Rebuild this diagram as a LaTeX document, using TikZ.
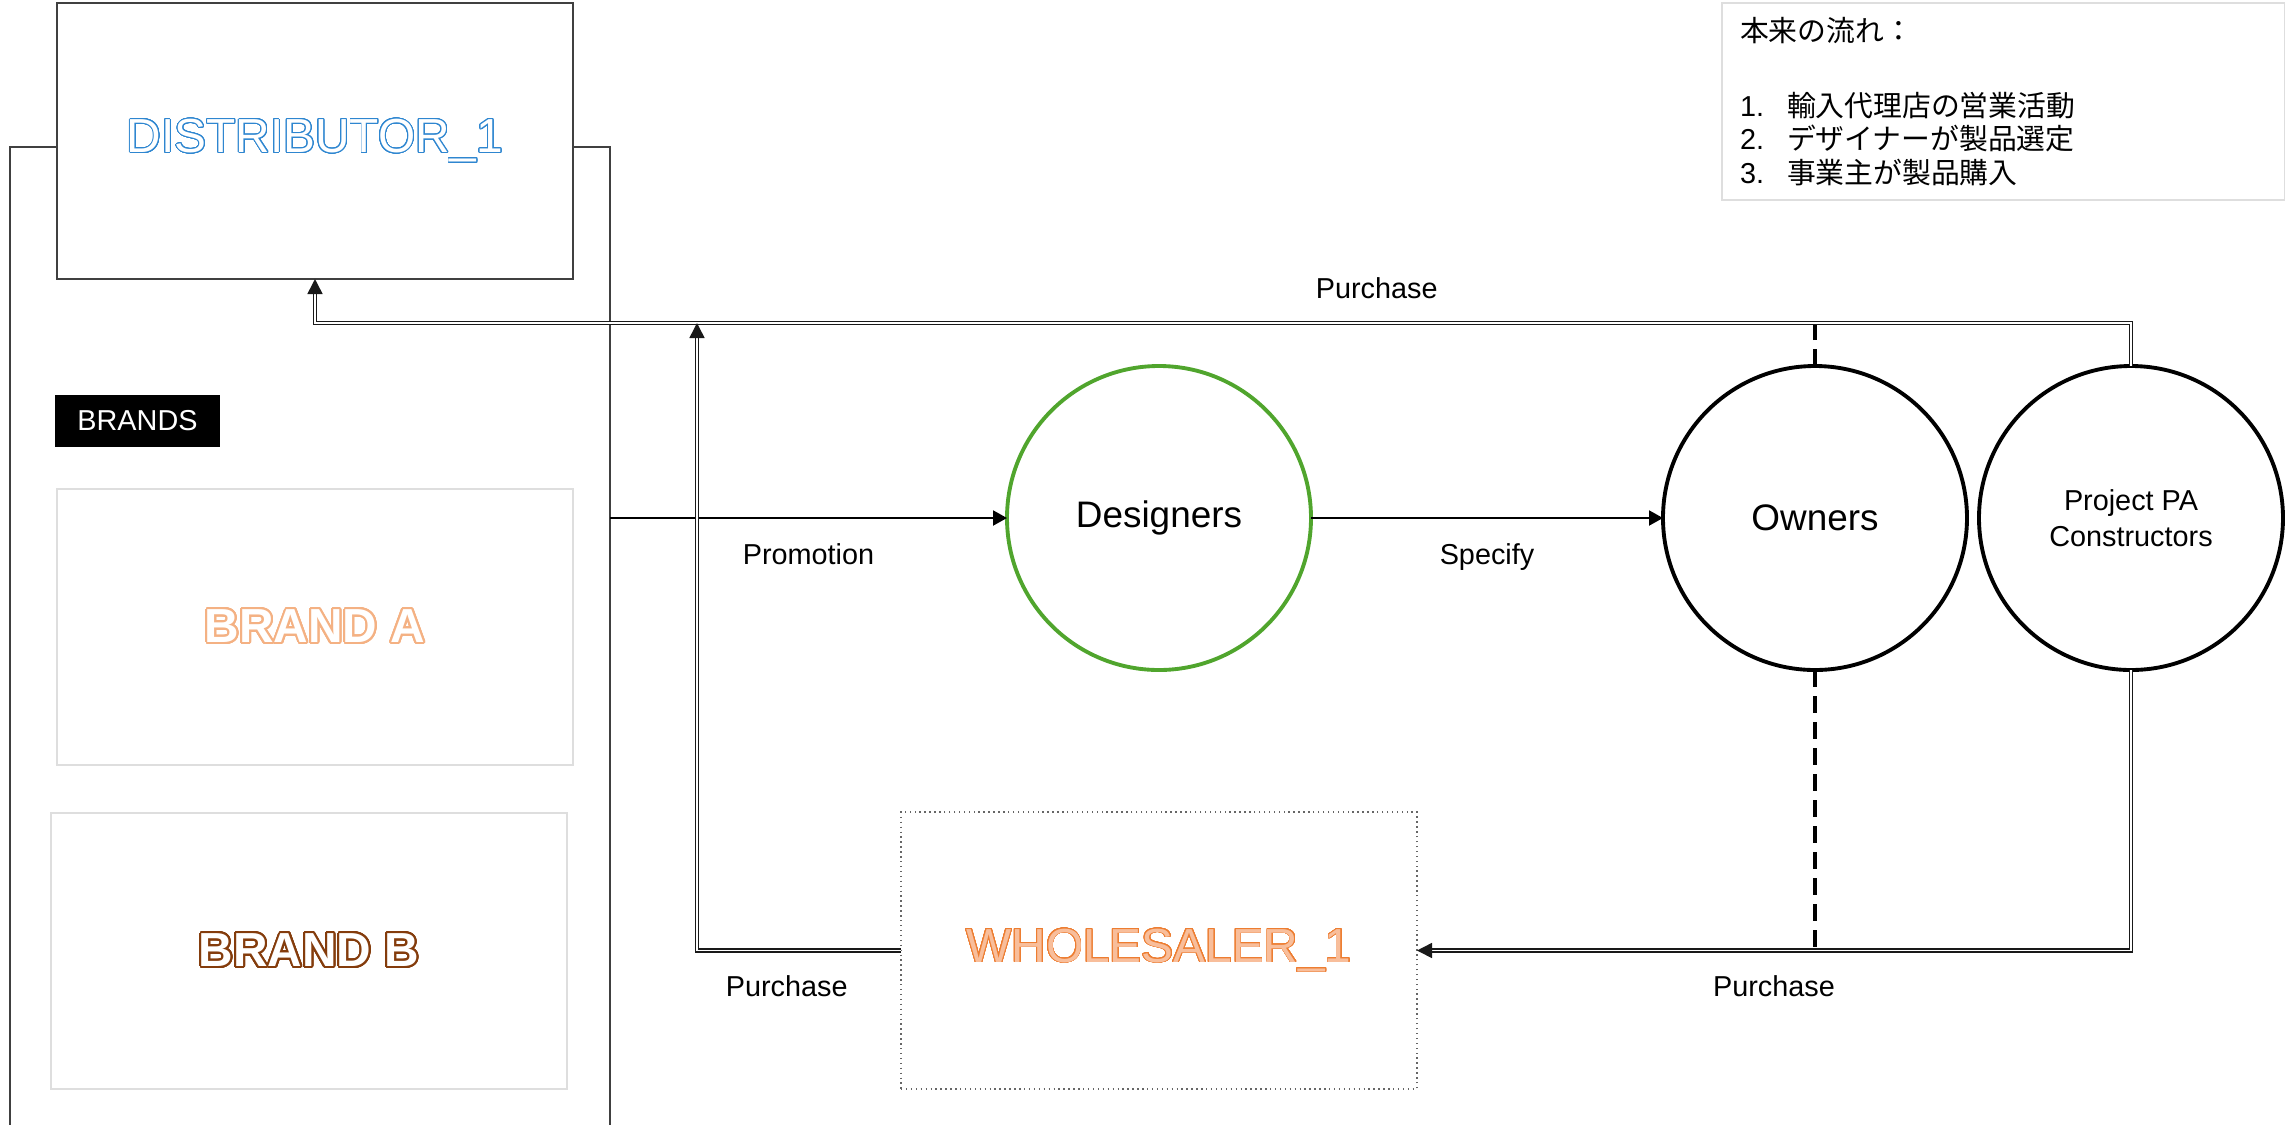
\documentclass[tikz,border=0pt]{standalone}
\usepackage{fontspec}
\setmainfont{Liberation Sans}
\newfontfamily\jpfont{Noto Sans CJK JP}
\usepackage{contour}
\contournumber{32}
\usetikzlibrary{positioning,arrows.meta}

\definecolor{distblue}{RGB}{46,134,208}
\definecolor{saleorange}{RGB}{237,125,49}
\definecolor{salefill}{RGB}{248,190,155}
\definecolor{brandpeach}{RGB}{244,177,131}
\definecolor{brandbrown}{RGB}{132,60,12}
\definecolor{designgreen}{RGB}{80,165,45}
\definecolor{framegray}{RGB}{64,64,64}
\definecolor{palegray}{RGB}{222,222,222}

\begin{document}
\begin{tikzpicture}[nodes = {align = center, outer sep = 0pt},
    company/.style = {draw=framegray, line width=0.4pt, minimum width=5.16cm,
      minimum height=2.76cm, font=\fontsize{13.6}{16}\selectfont},
    brand/.style = {draw=palegray, line width=0.5pt, minimum width=5.16cm,
      minimum height=2.76cm, font=\bfseries\fontsize{13.6}{16}\selectfont},
    party/.style = {draw, circle, line width=1.1pt, minimum size=3.04cm,
      font=\fontsize{10.5}{12.6}\selectfont},
    tag/.style = {inner sep=0pt, font=\fontsize{8.2}{10}\selectfont},
    flow/.style = {line width=0.6pt, -{Triangle[length=0.14cm,width=0.15cm]}},
    buy/.style = {draw=black!90, line width=0.45pt, double, double distance=0.45pt,
      -{Triangle[length=0.15cm,width=0.15cm]}},
    link/.style = {line width=1.1pt, dash pattern=on 0.17cm off 0.09cm}]

    \useasboundingbox (0,0) rectangle (22.85,-11.25);

    \node (dist) [company] at (3.15,-1.41)
    {\contourlength{0.25pt}\contour{distblue}{\textcolor{white}{DISTRIBUTOR\_1}}};

    \node (brands) [below right = 1.16cm and -0.02cm of dist.south west, fill=black,
    text=white, minimum width=1.65cm, minimum height=0.52cm,
    font=\fontsize{8.2}{10}\selectfont] {BRANDS};

    \node (brandA) [brand, below = 2.10cm of dist]
    {\contourlength{0.55pt}\contour{brandpeach}{\textcolor{white}{BRAND A}}};

    \node (brandB) [brand, below = 0.48cm of brandA, xshift=-0.06cm]
    {\contourlength{0.55pt}\contour{brandbrown}{\textcolor{white}{BRAND B}}};

    \node (designers) [party, draw=designgreen] at (11.59,-5.18) {Designers};

    \node (owners) [party, right = 3.52cm of designers] {Owners};

    \node (project) [party, right = 0.12cm of owners,
    font=\fontsize{8.2}{10.2}\selectfont] {Project PA\\Constructors};

    \node (sales) [below = 1.42cm of designers, draw=framegray!80, densely dotted,
    line width=0.4pt, minimum width=5.16cm, minimum height=2.77cm,
    font=\fontsize{13.6}{16}\selectfont]
    {\contourlength{0.25pt}\contour{saleorange}{\textcolor{salefill}{WHOLESALER\_1}}};

    \node (origflow) [draw=palegray, line width=0.6pt, anchor=north west,
    minimum width=5.63cm, minimum height=1.97cm, text width=5.27cm, align=left,
    inner xsep=0.18cm, font=\jpfont\fontsize{8.2}{9.6}\selectfont] at (17.22,-0.03)
    {本来の流れ：\\[11.7pt]
      \makebox[0.47cm][l]{\rmfamily 1.}輸入代理店の営業活動\\
      \makebox[0.47cm][l]{\rmfamily 2.}デザイナーが製品選定\\
      \makebox[0.47cm][l]{\rmfamily 3.}事業主が製品購入};

    \coordinate (leftfoot) at (0.10,-11.25);
    \coordinate (rightfoot) at (6.10,-11.25);
    \coordinate (riser) at (6.97,-3.23);

    % frame round the brands
    \draw[framegray, line width=0.4pt] ([yshift=-0.06cm]dist.west) -| (leftfoot);
    \draw[framegray, line width=0.4pt] ([yshift=-0.06cm]dist.east) -| (rightfoot);

    \draw[flow] (rightfoot |- designers.west) -- node[tag, below=0.26cm]
    {Promotion} (designers.west);

    \draw[flow] (designers) -- node[tag, below=0.26cm] {Specify} (owners);

    \draw[link] (owners.north) -- (owners.north |- riser);
    \draw[link] (owners.south) -- (owners.south |- sales.east);

    % purchase routes
    \draw[buy] (project.north) |- node[tag, pos=0.763, above=0.24cm] {Purchase}
    (riser) -| (dist.south);

    \draw[buy] (sales.west) -| node[tag, pos=0.28, below=0.25cm] {Purchase}
    (riser);

    \draw[buy] (project.south) |- node[tag, pos=0.75, below=0.25cm] {Purchase}
    (sales.east);
  \end{tikzpicture}
\end{document}
